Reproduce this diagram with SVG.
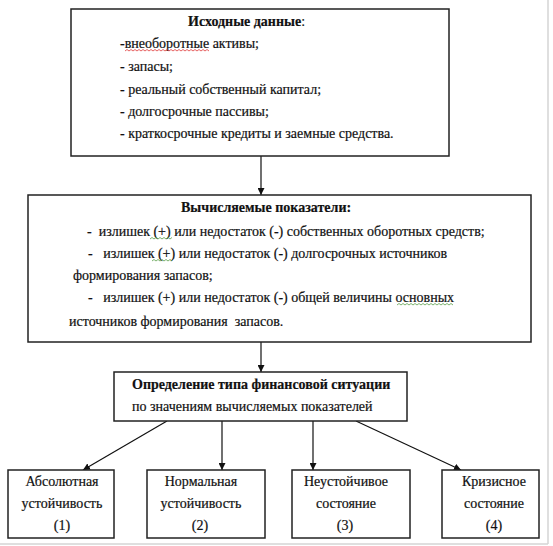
<svg xmlns="http://www.w3.org/2000/svg" width="553" height="546" viewBox="0 0 553 546">
<defs>
<style>
.box{fill:#fff;stroke:#222;stroke-width:1.5}
.t{font-family:'Liberation Serif','Times New Roman',serif;font-size:14px;fill:#111;stroke:#111;stroke-width:0.2;white-space:pre}
.b{font-weight:bold}
.c{text-anchor:middle}
.conn{stroke:#111;stroke-width:1.2;fill:none}
.page{stroke:#d4d4d4;stroke-width:1.5}
.sq-r{stroke:#e03a3a;stroke-width:0.8;fill:none}
.sq-g{stroke:#5aa04a;stroke-width:0.8;fill:none}
</style>
<marker id="ah" viewBox="0 0 10 10" refX="10" refY="5" markerWidth="7" markerHeight="7" markerUnits="userSpaceOnUse" orient="auto">
<path d="M0,0 L10,5 L0,10 z" fill="#111"/>
</marker>
</defs>
<rect width="553" height="546" fill="#fff"/>
<line class="page" x1="548" y1="0" x2="548" y2="544"/>
<line class="page" x1="0" y1="544" x2="548" y2="544"/>

<g id="connectors">
<line class="conn" x1="261" y1="156" x2="261" y2="195" marker-end="url(#ah)"/>
<line class="conn" x1="261" y1="342" x2="261" y2="372" marker-end="url(#ah)"/>
<line class="conn" x1="167" y1="421" x2="83" y2="470" marker-end="url(#ah)"/>
<line class="conn" x1="222" y1="421" x2="222" y2="470" marker-end="url(#ah)"/>
<line class="conn" x1="313" y1="421" x2="313" y2="470" marker-end="url(#ah)"/>
<line class="conn" x1="356" y1="421" x2="461" y2="470" marker-end="url(#ah)"/>
</g>

<g id="source-data">
<rect class="box" x="71" y="9" width="378" height="147"/>
<text class="t" x="188" y="26"><tspan class="b">Исходные данные</tspan>:</text>
<text class="t" x="120" y="48">-внеоборотные активы;</text>
<text class="t" x="120" y="71">- запасы;</text>
<text class="t" x="120" y="94">- реальный собственный капитал;</text>
<text class="t" x="120" y="116">- долгосрочные пассивы;</text>
<text class="t" x="120" y="138">- краткосрочные кредиты и заемные средства.</text>
<path class="sq-r" d="M125,51 l2,-1.5 l2,1.5 l2,-1.5 l2,1.5 l2,-1.5 l2,1.5 l2,-1.5 l2,1.5 l2,-1.5 l2,1.5 l2,-1.5 l2,1.5 l2,-1.5 l2,1.5 l2,-1.5 l2,1.5 l2,-1.5 l2,1.5 l2,-1.5 l2,1.5 l2,-1.5 l2,1.5 l2,-1.5 l2,1.5 l2,-1.5 l2,1.5 l2,-1.5 l2,1.5 l2,-1.5 l2,1.5 l2,-1.5 l2,1.5 l2,-1.5 l2,1.5 l2,-1.5 l2,1.5 l2,-1.5 l2,1.5 l2,-1.5 l2,1.5 l2,-1.5 l2,1.5"/>
</g>

<g id="computed-indicators">
<rect class="box" x="28" y="195" width="503" height="147"/>
<text class="t b" x="181" y="212">Вычисляемые показатели:</text>
<text class="t" x="87" y="236">-  излишек (+) или недостаток (-) собственных оборотных средств;</text>
<text class="t" x="88" y="258">-   излишек (+) или недостаток (-) долгосрочных источников</text>
<text class="t" x="73" y="280">формирования запасов;</text>
<text class="t" x="88" y="302">-   излишек (+) или недостаток (-) общей величины основных</text>
<text class="t" x="69" y="326">источников формирования  запасов.</text>
<path class="sq-g" d="M150,239 l2,-1.5 l2,1.5 l2,-1.5 l2,1.5 l2,-1.5 l2,1.5 l2,-1.5 l2,1.5 l2,-1.5 l2,1.5 l2,-1.5"/>
<path class="sq-g" d="M152,261 l2,-1.5 l2,1.5 l2,-1.5 l2,1.5 l2,-1.5 l2,1.5 l2,-1.5 l2,1.5 l2,-1.5 l2,1.5"/>
<path class="sq-g" d="M397,305 l2,-1.5 l2,1.5 l2,-1.5 l2,1.5 l2,-1.5 l2,1.5 l2,-1.5 l2,1.5 l2,-1.5 l2,1.5 l2,-1.5 l2,1.5 l2,-1.5 l2,1.5 l2,-1.5 l2,1.5 l2,-1.5 l2,1.5 l2,-1.5 l2,1.5 l2,-1.5 l2,1.5 l2,-1.5 l2,1.5 l2,-1.5 l2,1.5 l2,-1.5 l2,1.5"/>
</g>

<g id="situation-type">
<rect class="box" x="114" y="372" width="293" height="49"/>
<text class="t b" x="132" y="389">Определение типа финансовой ситуации</text>
<text class="t" x="132" y="411">по значениям вычисляемых показателей</text>
</g>

<g id="absolute">
<rect class="box" x="8" y="470" width="106" height="68"/>
<text class="t c" x="62" y="486">Абсолютная</text>
<text class="t c" x="62" y="508">устойчивость</text>
<text class="t c" x="62" y="530">(1)</text>
</g>

<g id="normal">
<rect class="box" x="147" y="470" width="118" height="68"/>
<text class="t c" x="201" y="486">Нормальная</text>
<text class="t c" x="201" y="508">устойчивость</text>
<text class="t c" x="200" y="530">(2)</text>
</g>

<g id="unstable">
<rect class="box" x="292" y="470" width="118" height="68"/>
<text class="t c" x="346" y="486">Неустойчивое</text>
<text class="t c" x="346" y="508">состояние</text>
<text class="t c" x="345" y="530">(3)</text>
</g>

<g id="crisis">
<rect class="box" x="442" y="470" width="97" height="68"/>
<text class="t c" x="494" y="486">Кризисное</text>
<text class="t c" x="494" y="508">состояние</text>
<text class="t c" x="494" y="530">(4)</text>
</g>
</svg>
